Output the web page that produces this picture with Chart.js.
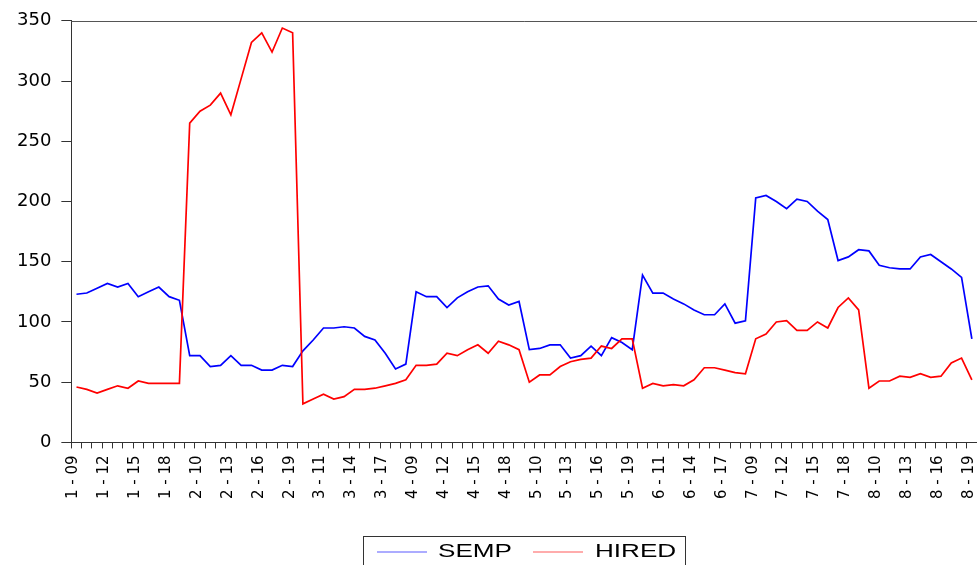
<!DOCTYPE html>
<html>
<head>
<meta charset="utf-8">
<script src="https://cdn.jsdelivr.net/npm/chart.js@4.4.0/dist/chart.umd.min.js"></script>
<style>
  html, body { margin: 0; padding: 0; background: #fff; }
  #wrap { width: 977px; height: 565px; position: relative; }
</style>
</head>
<body>
<div id="wrap"><canvas id="myChart"></canvas></div>
<script>
var groups = [1, 2, 3, 4, 5, 6, 7, 8];
var periods = ['09', '10', '11', '12', '13', '14', '15', '16', '17', '18', '19'];
var yTicks = [0, 50, 100, 150, 200, 250, 300, 350];

var semp = [123, 124, 128, 132, 129, 132, 121, 125, 129, 121, 118,
            72, 72, 63, 64, 72, 64, 64, 60, 60, 64, 63,
            76, 85, 95, 95, 96, 95, 88, 85, 74, 61, 65,
            125, 121, 121, 112, 120, 125, 129, 130, 119, 114, 117,
            77, 78, 81, 81, 70, 72, 80, 72, 87, 83, 77,
            139, 124, 124, 119, 115, 110, 106, 106, 115, 99, 101,
            203, 205, 200, 194, 202, 200, 192, 185, 151, 154, 160,
            159, 147, 145, 144, 144, 154, 156, 150, 144, 137, 86];

var hired = [46, 44, 41, 44, 47, 45, 51, 49, 49, 49, 49,
             265, 275, 280, 290, 272, 302, 332, 340, 324, 344, 340,
             32, 36, 40, 36, 38, 44, 44, 45, 47, 49, 52,
             64, 64, 65, 74, 72, 77, 81, 74, 84, 81, 77,
             50, 56, 56, 63, 67, 69, 70, 80, 78, 86, 86,
             45, 49, 47, 48, 47, 52, 62, 62, 60, 58, 57,
             86, 90, 100, 101, 93, 93, 100, 95, 112, 120, 110,
             45, 51, 51, 55, 54, 57, 54, 55, 66, 70, 52];

var labels = [];
groups.forEach(function (g) {
  periods.forEach(function (p) { labels.push(g + ' - ' + p); });
});

// top frame line + boxed legend like the EViews output
var frameAndLegend = {
  id: 'frameAndLegend',
  afterDraw: function (chart) {
    var ctx = chart.ctx;
    var area = chart.chartArea;
    ctx.save();
    ctx.strokeStyle = '#555';
    ctx.lineWidth = 1;
    ctx.beginPath();
    ctx.moveTo(area.left, Math.round(area.top) + 0.5);
    ctx.lineTo(area.right, Math.round(area.top) + 0.5);
    ctx.stroke();

    ctx.strokeStyle = '#333';
    ctx.strokeRect(363.5, 536.5, 322, 40);
    var items = [{ x: 377, tx: 438 }, { x: 533, tx: 595 }];
    chart.data.datasets.forEach(function (ds, i) {
      var it = items[i];
      ctx.strokeStyle = ds.borderColor;
      ctx.globalAlpha = 0.65;
      ctx.beginPath();
      ctx.moveTo(it.x, 552);
      ctx.lineTo(it.x + 50, 552);
      ctx.stroke();
      ctx.globalAlpha = 1;
      ctx.save();
      ctx.translate(it.tx, 557);
      ctx.scale(1.45, 1);
      ctx.fillStyle = '#000';
      ctx.font = '18px "Liberation Sans"';
      ctx.textBaseline = 'alphabetic';
      ctx.fillText(ds.label, 0, 0);
      ctx.restore();
    });
    ctx.restore();
  }
};

var ctx = document.getElementById('myChart');

var myChart = new Chart(ctx, {
  type: 'line',
  data: {
    labels: labels,
    datasets: [{
      label: 'SEMP',
      data: semp,
      borderColor: '#0000ff',
      backgroundColor: '#0000ff',
      borderWidth: 1.7,
      pointRadius: 0,
      tension: 0,
      order: 1
    }, {
      label: 'HIRED',
      data: hired,
      borderColor: '#ff0000',
      backgroundColor: '#ff0000',
      borderWidth: 1.7,
      pointRadius: 0,
      tension: 0,
      order: 0
    }]
  },
  options: {
    responsive: true,
    maintainAspectRatio: false,
    animation: false,
    devicePixelRatio: 1,
    layout: { padding: { left: 7, top: 20, right: 0, bottom: 59 } },
    plugins: {
      legend: { display: false },
      tooltip: { enabled: false }
    },
    scales: {
      x: {
        offset: true,
        afterFit: function (s) {
          s.paddingLeft = 0;
          s.paddingRight = 0;
        },
        grid: { offset: true, drawOnChartArea: false, tickLength: 6, color: '#333' },
        border: { color: '#333' },
        ticks: {
          autoSkip: false,
          minRotation: 90,
          maxRotation: 90,
          padding: 7,
          labelOffset: -3,
          color: '#000',
          font: { family: 'DejaVu Sans', size: 15 },
          callback: function (v, i) {
            return i % 3 === 0 ? this.getLabelForValue(v) : '';
          }
        }
      },
      y: {
        min: 0,
        max: 350,
        afterBuildTicks: function (s) {
          s.ticks = yTicks.map(function (v) { return { value: v }; });
        },
        grid: { drawOnChartArea: false, tickLength: 10, color: '#333' },
        border: { color: '#333' },
        ticks: {
          padding: 10,
          color: '#000',
          font: { family: 'DejaVu Sans', size: 18 }
        }
      }
    }
  },
  plugins: [frameAndLegend]
});
</script>
</body>
</html>
